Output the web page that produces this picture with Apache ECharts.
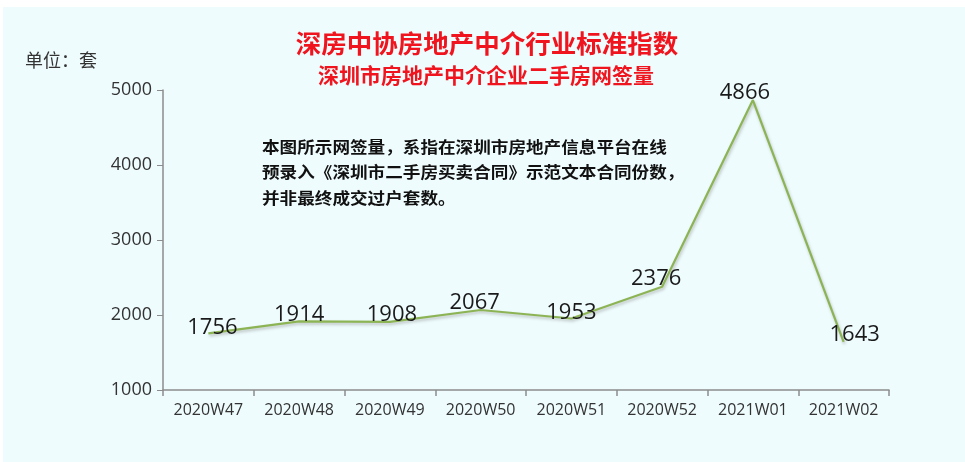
<!DOCTYPE html>
<html>
<head>
<meta charset="utf-8">
<script src="https://cdn.jsdelivr.net/npm/echarts@6/dist/echarts.min.js"></script>
<style>
  html, body { margin: 0; padding: 0; background: #ffffff; }
  #chart { width: 965px; height: 462px; }
</style>
</head>
<body>
<div id="chart"></div>
<script>
// Weekly second-hand housing contract sign-ups (unit: sets)
const weeks = ['2020W47', '2020W48', '2020W49', '2020W50', '2020W51', '2020W52', '2021W01', '2021W02'];
const signings = [1756, 1914, 1908, 2067, 1953, 2376, 4866, 1643];
const yTicks = [1000, 2000, 3000, 4000, 5000];

const titleText = '深房中协房地产中介行业标准指数';
const subtitleText = '深圳市房地产中介企业二手房网签量';
const unitText = '单位：套';
const noteLines = [
  '本图所示网签量，系指在深圳市房地产信息平台在线',
  '预录入《深圳市二手房买卖合同》示范文本合同份数，',
  '并非最终成交过户套数。'
];

// small nudges so value labels sit where they read best
const labelNudge = [[4, 7], [0, 6], [2, 6], [-6, 6], [0, 7], [-6, 5], [-8, 6], [11, 6]];

const chart = echarts.init(document.getElementById('chart'), null, { renderer: 'canvas' });

const cjkFont = '"Noto Sans CJK SC", "Open Sans", sans-serif';
const numFont = '"Open Sans", sans-serif';

const option = {
  backgroundColor: 'transparent',
  animation: false,
  grid: { left: 163, right: 76, top: 90, bottom: 72 },
  graphic: [
    { type: 'rect', shape: { x: 3, y: 7, width: 962, height: 455 }, style: { fill: '#effcfd' }, z: -10 },
    {
      type: 'text', x: 487, y: 43,
      style: { text: titleText, fill: '#f0141e', font: 'bold 25.5px ' + cjkFont, align: 'center', verticalAlign: 'middle' }
    },
    {
      type: 'text', x: 486, y: 75,
      style: { text: subtitleText, fill: '#f0141e', font: 'bold 21px ' + cjkFont, align: 'center', verticalAlign: 'middle' }
    },
    {
      type: 'text', x: 25, y: 60,
      style: { text: unitText, fill: '#333', font: '18px ' + cjkFont, verticalAlign: 'middle' }
    },
    {
      type: 'text', x: 262, y: 134, scaleX: 1.1, originX: 0, originY: 0,
      style: {
        text: noteLines.join('\n'), fill: '#111', lineHeight: 25.5,
        font: 'bold 16px ' + cjkFont
      }
    }
  ],
  xAxis: {
    type: 'category',
    data: weeks,
    boundaryGap: true,
    axisLine: { lineStyle: { color: '#8c8c8c', width: 1.5 } },
    axisTick: { show: true, length: 6, lineStyle: { color: '#8c8c8c', width: 1.5 } },
    axisLabel: { color: '#333', fontSize: 16, margin: 12, interval: 0, fontFamily: numFont }
  },
  yAxis: {
    type: 'value',
    min: yTicks[0],
    max: yTicks[yTicks.length - 1],
    interval: 1000,
    axisLine: { show: true, lineStyle: { color: '#8c8c8c', width: 1.5 } },
    axisTick: { show: true, length: 6, lineStyle: { color: '#8c8c8c', width: 1 } },
    splitLine: { show: false },
    axisLabel: {
      color: '#333', fontSize: 18, margin: 11, fontFamily: numFont,
      formatter: v => String(v)
    }
  },
  series: [{
    type: 'line',
    data: signings.map((v, i) => ({
      value: v,
      label: { offset: labelNudge[i] }
    })),
    symbol: 'circle',
    symbolSize: 0.1,
    showSymbol: true,
    itemStyle: { color: '#8cb455' },
    lineStyle: {
      color: '#8cb455', width: 2.2,
      shadowColor: 'rgba(80,80,80,0.35)', shadowBlur: 3, shadowOffsetY: 2, shadowOffsetX: 1
    },
    label: {
      show: true, position: 'top', distance: 2,
      color: '#1a1a1a', fontSize: 22, fontFamily: numFont
    }
  }]
};

chart.setOption(option);
</script>
</body>
</html>
